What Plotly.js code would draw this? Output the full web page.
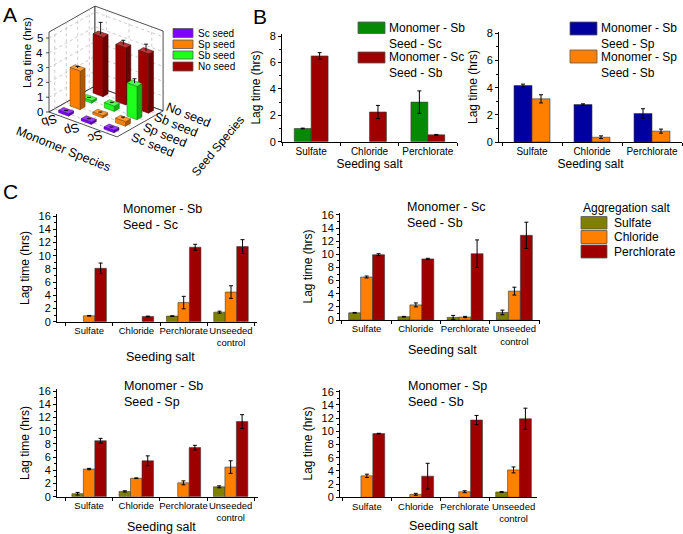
<!DOCTYPE html>
<html><head><meta charset="utf-8">
<script src="https://cdn.plot.ly/plotly-3.0.1.min.js"></script>
<style>html,body{margin:0;padding:0;background:#fff;}#chart{width:683px;height:534px;}</style>
</head><body><div id="chart"></div>
<script>
// ================= DATA =================
// Panel A (3D bars): lag time by monomer species (columns) and seed species (rows)
const monomers = ['Sb', 'Sp', 'Sc'];
const seeds = ['Sc seed', 'Sp seed', 'Sb seed', 'No seed'];
const aScSeed = [0.15, 0.15, 0.15];
const aSpSeed = [2.6, 0.15, 0.3];
const aSbSeed = [0.15, 0.35, 2.25];
const aNoSeed = [4.0, 3.85, 4.0];
const aScSeedErr = [0.02, 0.02, 0.02];
const aSpSeedErr = [0.1, 0.03, 0.1];
const aSbSeedErr = [0.02, 0.05, 0.3];
const aNoSeedErr = [0.8, 0.3, 0.45];
const aTicks = [0, 1, 2, 3, 4, 5];

// Panel B: seeding salt
const saltsB = ['Sulfate', 'Chloride', 'Perchlorate'];
const bSbScName = 'Monomer - Sb<br>Seed - Sc';
const bScSbName = 'Monomer - Sc<br>Seed - Sb';
const bSbSpName = 'Monomer - Sb<br>Seed - Sp';
const bSpSbName = 'Monomer - Sp<br>Seed - Sb';
const bSbSc = [1.0, null, 3.0];
const bSbScErr = [0.03, 0, 0.85];
const bScSb = [6.5, 2.25, 0.52];
const bScSbErr = [0.25, 0.5, 0.03];
const bSbSp = [4.16, 2.76, 2.1];
const bSbSpErr = [0.1, 0.05, 0.35];
const bSpSb = [3.18, 0.35, 0.8];
const bSpSbErr = [0.3, 0.1, 0.15];

// Panel C: seeding salt x aggregation salt
const saltsC = ['Sulfate', 'Chloride', 'Perchlorate', 'Unseeded<br>control'];
const aggSalts = ['Sulfate', 'Chloride', 'Perchlorate'];
const cTitles = ['Monomer - Sb<br>Seed - Sc', 'Monomer - Sc<br>Seed - Sb', 'Monomer - Sb<br>Seed - Sp', 'Monomer - Sp<br>Seed - Sb'];
// Monomer Sb, Seed Sc
const c1Sulfate = [null, null, 0.85, 1.45];
const c1Chloride = [0.9, null, 2.9, 4.5];
const c1Perchlorate = [8.1, 0.8, 11.3, 11.4];
const c1SulfateErr = [0, 0, 0.05, 0.15];
const c1ChlorideErr = [0.05, 0, 0.95, 0.95];
const c1PerchlorateErr = [0.8, 0.05, 0.45, 1.05];
// Monomer Sc, Seed Sb
const c2Sulfate = [1.1, 0.5, 0.4, 1.15];
const c2Chloride = [6.55, 2.3, 0.45, 4.4];
const c2Perchlorate = [9.95, 9.3, 10.1, 12.9];
const c2SulfateErr = [0.05, 0.05, 0.3, 0.35];
const c2ChlorideErr = [0.15, 0.3, 0.1, 0.6];
const c2PerchlorateErr = [0.15, 0.1, 2.1, 2.0];
// Monomer Sb, Seed Sp
const c3Sulfate = [0.45, 0.8, null, 1.5];
const c3Chloride = [4.2, 2.8, 2.1, 4.5];
const c3Perchlorate = [8.5, 5.45, 7.45, 11.4];
const c3SulfateErr = [0.2, 0.1, 0, 0.15];
const c3ChlorideErr = [0.1, 0.05, 0.3, 0.95];
const c3PerchlorateErr = [0.35, 0.75, 0.35, 1.05];
// Monomer Sp, Seed Sb
const c4Sulfate = [null, null, null, 0.8];
const c4Chloride = [3.25, 0.45, 0.85, 4.15];
const c4Perchlorate = [9.65, 3.2, 11.7, 11.9];
const c4SulfateErr = [0, 0, 0, 0.05];
const c4ChlorideErr = [0.25, 0.15, 0.15, 0.45];
const c4PerchlorateErr = [0.05, 1.95, 0.7, 1.6];

// ================= STYLE =================
const FONT = 'Liberation Sans, Arial, sans-serif';
const OLIVE = '#808000', ORANGE = '#ff8000', WINE = '#9e0000';
const GREEN = '#068a06', NAVY = '#0000a0', PURPLE = '#8000ff', LIME = '#1eff1e';
const W = 683, H = 534;
const PX = v => v / W, PY = v => 1 - v / H;

const traces = [];
const shapes = [];
const annotations = [];

function label(text, x, y, size, opts) {
  annotations.push(Object.assign({xref:'paper', yref:'paper', x:PX(x), y:PY(y), text:text, showarrow:false,
    xanchor:'left', yanchor:'middle', align:'left', font:{size:size, family:FONT, color:'#000'}}, opts || {}));
}

// ---------- Panel A: oblique 3D bar chart on a hidden 2D subplot ----------
// oblique projection of (monomer index, seed index, lag time) into the subplot's coordinate frame
const A_ORIGIN = [49, 112], A_EX = [22.7, 8.3], A_EY = [11.5, -6.5], A_EZ = 14.8, A_ZMAX = 5.4;
function proj(x, y, z) {
  const u = x + 0.5, v = y + 0.5;
  return [A_ORIGIN[0] + u * A_EX[0] + v * A_EY[0], A_ORIGIN[1] + u * A_EX[1] + v * A_EY[1] - z * A_EZ];
}
function mix(hex, f, toWhite) {
  const n = parseInt(hex.slice(1), 16);
  let c = [(n >> 16) & 255, (n >> 8) & 255, n & 255];
  c = c.map(v => Math.round(toWhite ? v + (255 - v) * f : v * f));
  return 'rgb(' + c.join(',') + ')';
}
function polyTrace(pts, fill, lineColor, lw) {
  const xs = pts.map(p => p[0]), ys = pts.map(p => p[1]);
  xs.push(xs[0]); ys.push(ys[0]);
  return {type:'scatter', xaxis:'x7', yaxis:'y7', x:xs, y:ys, mode:'lines', fill:'toself', fillcolor:fill,
    line:{color:lineColor, width:lw}, hoverinfo:'skip', showlegend:false};
}
function linesTrace(segs, color, width, dash) {
  const xs = [], ys = [];
  segs.forEach(s => { s.forEach(p => { xs.push(p[0]); ys.push(p[1]); }); xs.push(null); ys.push(null); });
  return {type:'scatter', xaxis:'x7', yaxis:'y7', x:xs, y:ys, mode:'lines', line:{color:color, width:width, dash:dash || 'solid'},
    hoverinfo:'skip', showlegend:false, connectgaps:false};
}
const xMin = -0.5, xMax = monomers.length - 0.5, yMin = -0.5, yMax = seeds.length - 0.5;
// walls and floor
traces.push(polyTrace([proj(xMin,yMin,0), proj(xMin,yMax,0), proj(xMin,yMax,A_ZMAX), proj(xMin,yMin,A_ZMAX)], '#fff', '#222', 0.8));
traces.push(polyTrace([proj(xMin,yMax,0), proj(xMax,yMax,0), proj(xMax,yMax,A_ZMAX), proj(xMin,yMax,A_ZMAX)], '#fff', '#222', 0.8));
traces.push(polyTrace([proj(xMin,yMin,0), proj(xMax,yMin,0), proj(xMax,yMax,0), proj(xMin,yMax,0)], '#fff', '#222', 0.8));
// grid lines
const grid = [];
aTicks.slice(1).forEach(z => {
  grid.push([proj(xMin,yMin,z), proj(xMin,yMax,z), proj(xMax,yMax,z)]);
});
seeds.forEach((s, j) => { grid.push([proj(xMin,j,0), proj(xMin,j,A_ZMAX)]); grid.push([proj(xMin,j,0), proj(xMax,j,0)]); });
monomers.forEach((m, i) => { grid.push([proj(i,yMax,0), proj(i,yMax,A_ZMAX)]); grid.push([proj(i,yMin,0), proj(i,yMax,0)]); });
traces.push(linesTrace(grid, '#b5b5b5', 0.7, 'dot'));
// z ticks
traces.push(linesTrace(aTicks.map(z => { const p = proj(xMin,yMin,z); return [[p[0]-3, p[1]], p]; }), '#222', 0.8));
// bars (painter's order: back rows first, left to right)
const aSeries = [[aScSeed, aScSeedErr, PURPLE], [aSpSeed, aSpSeedErr, ORANGE], [aSbSeed, aSbSeedErr, LIME], [aNoSeed, aNoSeedErr, WINE]];
const hw = 0.22;
for (let j = aSeries.length - 1; j >= 0; j--) {
  const [vals, errs, col] = aSeries[j];
  vals.forEach((h, i) => {
    const x0 = i - hw, x1 = i + hw, y0 = j - hw, y1 = j + hw;
    const edge = mix(col, 0.45);
    traces.push(polyTrace([proj(x1,y0,0), proj(x1,y1,0), proj(x1,y1,h), proj(x1,y0,h)], mix(col, 0.68), edge, 0.5));
    traces.push(polyTrace([proj(x0,y0,h), proj(x1,y0,h), proj(x1,y1,h), proj(x0,y1,h)], mix(col, 0.22, true), edge, 0.5));
    traces.push(polyTrace([proj(x0,y0,0), proj(x1,y0,0), proj(x1,y0,h), proj(x0,y0,h)], col, edge, 0.5));
    const top = proj(i, j, h), tip = proj(i, j, h + errs[i]);
    traces.push(linesTrace([[top, tip], [[tip[0]-2, tip[1]], [tip[0]+2, tip[1]]]], '#000', 0.9));
  });
}
// axis texts for panel A
function aText(text, p, opts) {
  annotations.push(Object.assign({xref:'x7', yref:'y7', x:p[0], y:p[1], text:text, showarrow:false,
    font:{size:11.5, family:FONT, color:'#000'}}, opts));
}
aTicks.forEach(z => aText(String(z), proj(xMin, yMin, z), {xanchor:'right', yanchor:'middle', xshift:-4}));
monomers.forEach((m, i) => aText(m, proj(i, yMin, 0), {xanchor:'center', yanchor:'middle', xshift:-11, yshift:-4, textangle:160,
  font:{size:12.5, family:FONT, color:'#000'}}));
// seed labels: stacked along the front-right edge, spread like the reference
seeds.forEach((s, j) => aText(s, proj(xMax, j, 0), {xanchor:'center', yanchor:'middle', xshift:30 + 0.3 * j, yshift:-11.3 + 3.5 * j, textangle:22,
  font:{size:12.5, family:FONT, color:'#000'}}));
annotations.push({xref:'paper', yref:'paper', x:PX(63), y:PY(149), text:'Monomer Species', textangle:22, showarrow:false,
  xanchor:'center', yanchor:'middle', font:{size:12.5, family:FONT, color:'#000'}});
annotations.push({xref:'paper', yref:'paper', x:PX(218), y:PY(146), text:'Seed Species', textangle:-50, showarrow:false,
  xanchor:'center', yanchor:'middle', font:{size:12, family:FONT, color:'#000'}});
annotations.push({xref:'paper', yref:'paper', x:PX(27), y:PY(53), text:'Lag time (hrs)', textangle:-90, showarrow:false,
  xanchor:'center', yanchor:'middle', font:{size:11.5, family:FONT, color:'#000'}});

// ---------- 2D bar helpers ----------
function barTrace(cats, vals, errs, color, xa, ya, width, offset) {
  return {type:'bar', x:cats, y:vals, xaxis:xa, yaxis:ya, width:width, offset:offset,
    marker:{color:color, line:{color:'#3a3a3a', width:0.6}},
    error_y:{type:'data', array:errs, visible:true, color:'#000', thickness:1, width:2},
    showlegend:false, hoverinfo:'skip'};
}
function xAxis(domPx, range, anchor, tickSize, title) {
  const ax = {domain:[PX(domPx[0]), PX(domPx[1])], range:range, type:'category', anchor:anchor,
    tickson:'boundaries', ticks:'outside', ticklen:3, tickcolor:'#000', showline:true, linecolor:'#000', linewidth:1,
    showgrid:false, zeroline:false, tickangle:0, tickfont:{size:tickSize, family:FONT, color:'#000'}, fixedrange:true};
  if (title) ax.title = {text:'Seeding salt', font:{size:12, family:FONT, color:'#000'}, standoff:2};
  return ax;
}
function yAxis(domPy, range, anchor, dtick, titleStandoff) {
  return {domain:[PY(domPy[0]), PY(domPy[1])], range:range, anchor:anchor, dtick:dtick,
    ticks:'outside', ticklen:3, tickcolor:'#000', showline:true, linecolor:'#000', linewidth:1,
    minor:{dtick:dtick/2, ticks:'outside', ticklen:2, tickcolor:'#000'},
    showgrid:false, zeroline:false, tickfont:{size:11, family:FONT, color:'#000'}, fixedrange:true,
    title:{text:'Lag time (hrs)', font:{size:12, family:FONT, color:'#000'}, standoff:titleStandoff}};
}

// ---------- Panel B ----------
traces.push(barTrace(saltsB, bSbSc, bSbScErr, GREEN, 'x', 'y', 0.29, -0.29));
traces.push(barTrace(saltsB, bScSb, bScSbErr, WINE, 'x', 'y', 0.29, 0));
traces.push(barTrace(saltsB, bSbSp, bSbSpErr, NAVY, 'x2', 'y2', 0.30, -0.30));
traces.push(barTrace(saltsB, bSpSb, bSpSbErr, ORANGE, 'x2', 'y2', 0.30, 0));

// ---------- Panel C ----------
const cw = 0.243;
const cSets = [
  [[c1Sulfate, c1SulfateErr], [c1Chloride, c1ChlorideErr], [c1Perchlorate, c1PerchlorateErr]],
  [[c2Sulfate, c2SulfateErr], [c2Chloride, c2ChlorideErr], [c2Perchlorate, c2PerchlorateErr]],
  [[c3Sulfate, c3SulfateErr], [c3Chloride, c3ChlorideErr], [c3Perchlorate, c3PerchlorateErr]],
  [[c4Sulfate, c4SulfateErr], [c4Chloride, c4ChlorideErr], [c4Perchlorate, c4PerchlorateErr]]
];
const cColors = [OLIVE, ORANGE, WINE];
cSets.forEach((set, p) => {
  set.forEach((s, k) => {
    traces.push(barTrace(saltsC, s[0], s[1], cColors[k], 'x' + (p + 3), 'y' + (p + 3), cw, -1.5 * cw + k * cw));
  });
});
// x titles of panel C (placed like the reference, beside the two-line tick label)
[[160, 357], [442, 350], [161, 527], [443, 526]].forEach(p => label('Seeding salt', p[0], p[1], 12.5, {xanchor:'center'}));

// ---------- Custom legends ----------
function swatch(x0, x1, y0, y1, color) {
  shapes.push({type:'rect', xref:'paper', yref:'paper', x0:PX(x0), x1:PX(x1), y0:PY(y1), y1:PY(y0),
    fillcolor:color, line:{color:'#555', width:0.8}});
}
// Legend A
[[PURPLE, 28.5, 37.5], [ORANGE, 40, 48.5], [LIME, 51, 59], [WINE, 62, 71]].forEach((s, i) => {
  swatch(173, 193, s[1], s[2], s[0]);
  label(seeds[i], 196, (s[1] + s[2]) / 2, 10);
});
// Legend B left
swatch(358, 385, 22, 33.5, GREEN); label(bSbScName, 387, 35.5, 12);
swatch(358, 385, 52, 63, WINE); label(bScSbName, 387, 64.5, 12);
// Legend B right
swatch(570, 597, 22, 35, NAVY); label(bSbSpName, 599, 35.5, 12);
swatch(570, 597, 50, 63, ORANGE); label(bSpSbName, 599, 65, 12);
// Legend C
label('Aggregation salt', 581, 208, 12);
[[216.5, 229], [230.5, 243.5], [245, 258]].forEach((r, i) => {
  swatch(581, 607, r[0], r[1], cColors[i]);
  label(aggSalts[i], 612, (r[0] + r[1]) / 2, 12);
});

// ---------- Panel titles / letters ----------
label(cTitles[0], 121, 216.5, 12.5);
label(cTitles[1], 405, 215.5, 12.5);
label(cTitles[2], 122, 394, 12.5);
label(cTitles[3], 406, 394, 12.5);
label('A', 1, 15, 21);
label('B', 251, 17, 21);
label('C', 1, 191, 21);

const hidden = {visible:false, showgrid:false, zeroline:false, fixedrange:true};
const layout = {
  width:W, height:H, margin:{l:0, r:0, t:0, b:0}, paper_bgcolor:'#fff', plot_bgcolor:'rgba(0,0,0,0)',
  font:{family:FONT, color:'#000'}, barmode:'overlay', showlegend:false,
  xaxis:xAxis([282, 457], [-0.5, 2.5], 'y', 10, true),
  yaxis:yAxis([141.7, 33.5], [0, 8.2], 'x', 2, 6),
  xaxis2:xAxis([499, 682], [-0.55, 2.5], 'y2', 10, true),
  yaxis2:yAxis([142, 32], [0, 8.1], 'x2', 2, 6),
  xaxis3:xAxis([57, 257], [-0.68, 3.55], 'y3', 9.5, false),
  yaxis3:yAxis([321.7, 214.3], [0, 16.3], 'x3', 2, 6),
  xaxis4:xAxis([340, 540], [-0.54, 3.52], 'y4', 9.5, false),
  yaxis4:yAxis([320, 213], [0, 16.3], 'x4', 2, 6),
  xaxis5:xAxis([57, 258], [-0.68, 3.58], 'y5', 9.5, false),
  yaxis5:yAxis([496.7, 389.3], [0, 16.3], 'x5', 2, 6),
  xaxis6:xAxis([340, 537], [-0.55, 3.48], 'y6', 9.5, false),
  yaxis6:yAxis([497.3, 389.7], [0, 16.3], 'x6', 2, 6),
  xaxis7:Object.assign({domain:[0, PX(210)], range:[0, 210], anchor:'y7'}, hidden),
  yaxis7:Object.assign({domain:[PY(180), 1], range:[180, 0], anchor:'x7'}, hidden),
  shapes:shapes, annotations:annotations
};
Plotly.newPlot('chart', traces, layout, {staticPlot:true, displayModeBar:false});
</script></body></html>
